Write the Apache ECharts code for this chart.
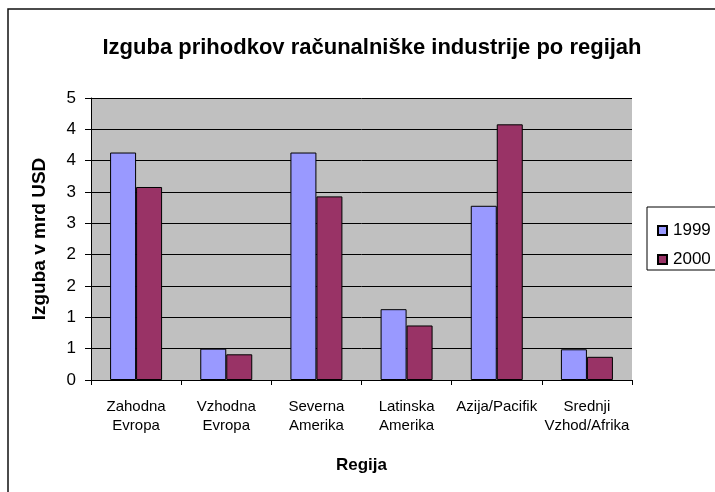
<!DOCTYPE html>
<html>
<head>
<meta charset="utf-8">
<script src="https://cdn.jsdelivr.net/npm/echarts@6/dist/echarts.min.js"></script>
<style>
  html, body { margin: 0; padding: 0; background: #fff; }
  #main { width: 715px; height: 492px; }
</style>
</head>
<body>
<div id="main"></div>
<script>
// regije (kategorije)
const regions = ["Zahodna\nEvropa", "Vzhodna\nEvropa", "Severna\nAmerika", "Latinska\nAmerika", "Azija/Pacifik", "Srednji\nVzhod/Afrika"];
// izguba v mrd USD
const loss1999 = [3.63, 0.50, 3.63, 1.13, 2.78, 0.49];
const loss2000 = [3.08, 0.41, 2.93, 0.87, 4.08, 0.37];
// oznake osi Y (zaokrozene, kot v izvirniku)
const yTickLabels = ["0", "1", "1", "2", "2", "3", "3", "4", "4", "5"];

const chart = echarts.init(document.getElementById("main"));
const font = "'Liberation Sans', Arial, sans-serif";

const option = {
    animation: false,
    backgroundColor: "#ffffff",
    title: {
        text: "Izguba prihodkov računalniške industrije po regijah",
        left: 367,
        top: 32,
        textAlign: "center",
        textStyle: { fontFamily: font, fontSize: 22, fontWeight: "bold", color: "#000" }
    },
    graphic: [
        // okvir grafikona
        { type: "rect", shape: { x: 8, y: 9, width: 730, height: 500 }, style: { fill: null, stroke: "#111", lineWidth: 1.5 }, silent: true },
        // okvir legende
        { type: "rect", shape: { x: 647, y: 207, width: 90, height: 63 }, style: { fill: "#fff", stroke: "#000", lineWidth: 1 }, z: 1, silent: true }
    ],
    legend: {
        orient: "vertical",
        left: 652,
        top: 217,
        itemWidth: 9,
        itemHeight: 9,
        itemGap: 12,
        z: 5,
        icon: "rect",
        textStyle: { fontFamily: font, fontSize: 17, color: "#000", padding: [0, 0, 0, 1] }
    },
    grid: { left: 91, right: 83, top: 98, bottom: 112 },
    xAxis: {
        type: "category",
        data: regions,
        name: "Regija",
        nameLocation: "middle",
        nameGap: 77,
        nameTextStyle: { fontFamily: font, fontSize: 17, fontWeight: "bold", color: "#000" },
        axisLine: { lineStyle: { color: "#000", width: 1 } },
        axisTick: { show: true, length: 5, lineStyle: { color: "#000" } },
        axisLabel: { fontFamily: font, fontSize: 15, color: "#000", margin: 17, lineHeight: 19, interval: 0 }
    },
    yAxis: {
        type: "value",
        min: 0,
        max: 4.5,
        interval: 0.5,
        name: "Izguba v mrd USD",
        nameLocation: "middle",
        nameGap: 42,
        nameTextStyle: { fontFamily: font, fontSize: 19, fontWeight: "bold", color: "#000" },
        axisLine: { show: true, lineStyle: { color: "#000", width: 1 } },
        axisTick: { show: true, length: 6, lineStyle: { color: "#000" } },
        axisLabel: {
            fontFamily: font, fontSize: 17, color: "#000", margin: 15,
            formatter: (v, i) => yTickLabels[i]
        },
        splitLine: { show: true, lineStyle: { color: "#000", width: 1 } },
        splitArea: { show: true, areaStyle: { color: ["#c0c0c0", "#c0c0c0"] } }
    },
    series: [
        {
            name: "1999",
            type: "bar",
            data: loss1999,
            barWidth: 26,
            barGap: "0%",
            itemStyle: { color: "#9999ff", borderColor: "#000", borderWidth: 1 }
        },
        {
            name: "2000",
            type: "bar",
            data: loss2000,
            barWidth: 26,
            itemStyle: { color: "#993366", borderColor: "#000", borderWidth: 1 }
        }
    ]
};

chart.setOption(option);
</script>
</body>
</html>
